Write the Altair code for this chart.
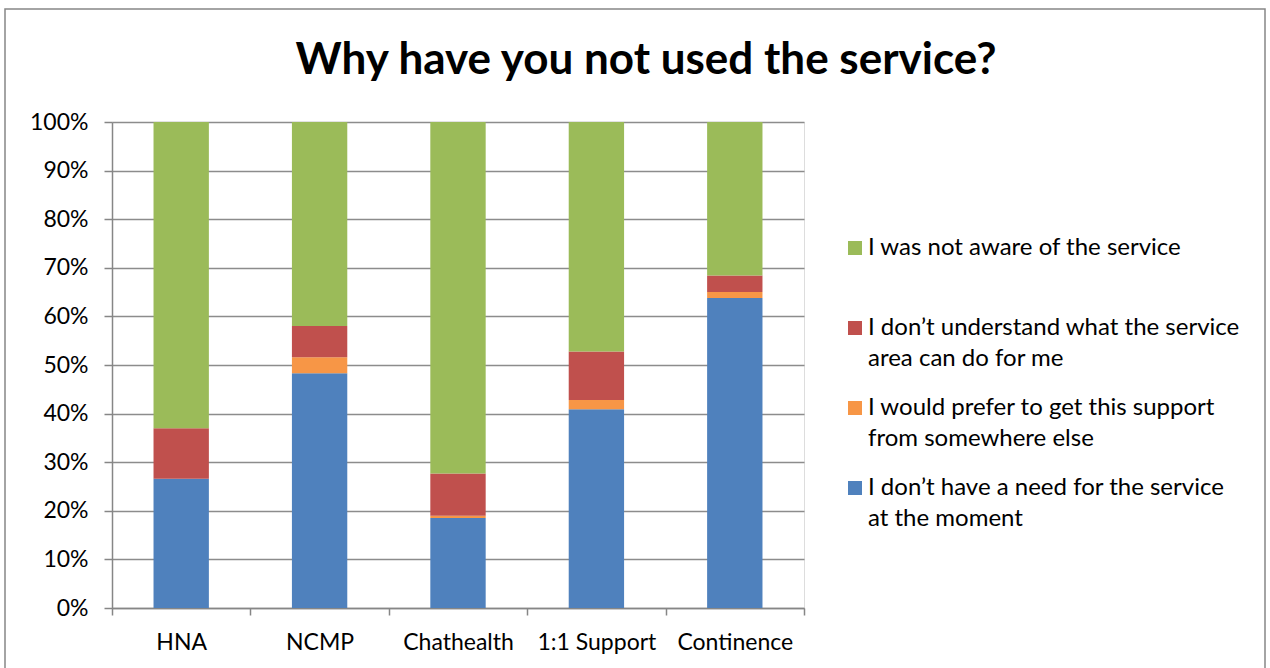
import altair as alt
import pandas as pd

categories = ["HNA", "NCMP", "Chathealth", "1:1 Support", "Continence"]
series_names = [
    "I don’t have a need for the service at the moment",
    "I would prefer to get this support from somewhere else",
    "I don’t understand what the service area can do for me",
    "I was not aware of the service",
]
no_need = [26.6, 48.3, 18.5, 40.9, 63.8]
prefer_else = [0.0, 3.3, 0.5, 1.9, 1.2]
dont_understand = [10.4, 6.4, 8.7, 10.0, 3.4]
not_aware = [63.0, 42.0, 72.3, 47.2, 31.6]
colors = ["#4f81bd", "#f79646", "#c0504d", "#9bbb59"]
label_lines = {
    series_names[0]: ["I don’t have a need for the service", "at the moment"],
    series_names[1]: ["I would prefer to get this support", "from somewhere else"],
    series_names[2]: ["I don’t understand what the service", "area can do for me"],
    series_names[3]: ["I was not aware of the service", " "],
}

rows = []
for si, (name, vals) in enumerate(zip(series_names, [no_need, prefer_else, dont_understand, not_aware])):
    for c, v in zip(categories, vals):
        rows.append({"category": c, "series": name, "value": v / 100.0, "stack": si})
df = pd.DataFrame(rows)

def js(s):
    return "'" + s.replace("'", "\\'") + "'"

expr = ""
for name, lines in label_lines.items():
    arr = "[" + ", ".join(js(l) for l in lines) + "]"
    expr += f"datum.label == {js(name)} ? {arr} : "
expr += "datum.label"

FONT = "Lato"
GRAY = "#868686"

bars = alt.Chart(df).mark_bar(width=alt.RelativeBandSize(0.4)).encode(
    x=alt.X("category:N", sort=categories, title=None,
            scale=alt.Scale(paddingInner=0, paddingOuter=0),
            axis=alt.Axis(labelAngle=0, tickBand="extent", tickSize=7, labelPadding=16,
                          domainColor=GRAY, tickColor=GRAY, domainWidth=1.5, tickWidth=1.5,
                          labelFont=FONT, labelFontSize=23, labelColor="#000000")),
    y=alt.Y("value:Q", stack="zero", title=None,
            scale=alt.Scale(domain=[0, 1], nice=False),
            axis=alt.Axis(format=".0%", values=[i / 10 for i in range(11)], tickSize=8, labelPadding=16,
                          domainColor=GRAY, tickColor=GRAY, domainWidth=1.5, tickWidth=1.5,
                          gridColor="#8c8c8c", gridWidth=1.5,
                          labelFont=FONT, labelFontSize=23, labelColor="#000000")),
    color=alt.Color("series:N",
                    scale=alt.Scale(domain=series_names[::-1], range=colors[::-1]),
                    legend=alt.Legend(title=None, orient="none", legendX=731, legendY=114,
                                      symbolType="square", symbolSize=196, symbolStrokeWidth=0,
                                      labelFont=FONT, labelFontSize=24, labelColor="#000000",
                                      labelLimit=600, labelExpr=expr, labelBaseline="middle",
                                      rowPadding=25, labelOffset=1)),
    order=alt.Order("stack:Q", sort="ascending"),
)

border = alt.Chart(pd.DataFrame({"a": [0]})).mark_rect(fill=None, stroke=GRAY, strokeWidth=1.5).encode(
    x=alt.value(-107), x2=alt.value(1153), y=alt.value(-113), y2=alt.value(560)
)

chart = alt.layer(border, bars).properties(
    width=692, height=486,
    autosize=alt.AutoSizeParams(type="none"),
    padding={"left": 112, "top": 122, "right": 466, "bottom": 60},
    title=alt.TitleParams("Why have you not used the service?", font=FONT, fontSize=44, fontWeight="bold",
                          color="#000000", anchor="middle", dx=188, offset=-110, baseline="alphabetic"),
).configure_view(stroke=None).configure(background="white", style={"guide-label": {"lineHeight": 31}})

chart.save("out.html", embed_options={"renderer": "svg", "actions": False})
